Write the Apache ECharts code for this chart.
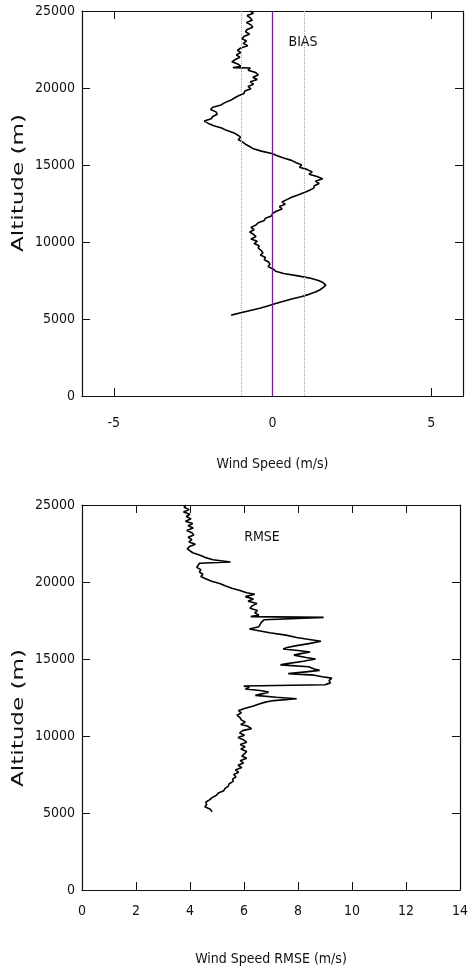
<!DOCTYPE html>
<html>
<head>
<meta charset="utf-8">
<script src="https://cdn.jsdelivr.net/npm/echarts@6/dist/echarts.min.js"></script>
<style>
html,body{margin:0;padding:0;background:#fff;}
#chart{width:471px;height:971px;}
</style>
</head>
<body>
<div id="chart"></div>
<script>
// ---- BIAS profile (altitude m, bias m/s) ----
const biasAlt = [25000,24850,24700,24550,24400,24250,24100,23950,23800,23650,23500,23350,23200,23050,22900,22750,22600,22450,22300,22150,22000,21850,21700,21550,21400,21320,21300,21150,21000,20850,20700,20550,20400,20250,20100,19950,19800,19650,19500,19350,19200,19050,18900,18750,18600,18450,18300,18150,18000,17850,17700,17550,17400,17250,17100,16950,16800,16650,16500,16350,16200,16050,15900,15750,15600,15450,15300,15150,15000,14850,14700,14550,14400,14250,14100,13950,13800,13650,13500,13350,13200,13050,12900,12750,12600,12450,12300,12150,12000,11850,11700,11550,11400,11250,11100,10950,10800,10650,10500,10350,10200,10050,9900,9750,9600,9450,9300,9150,9000,8850,8700,8550,8400,8250,8100,7950,7800,7650,7500,7350,7200,7050,6900,6750,6600,6450,6300,6150,6000,5850,5700,5550,5400,5250];
const biasVal = [-0.70,-0.60,-0.80,-0.70,-0.64,-0.82,-0.68,-0.62,-0.80,-0.85,-0.72,-0.90,-0.96,-0.82,-0.92,-0.78,-1.00,-1.10,-1.00,-1.14,-1.03,-1.17,-1.28,-1.08,-1.00,-1.25,-0.70,-0.77,-0.53,-0.45,-0.62,-0.48,-0.70,-0.60,-0.77,-0.68,-0.87,-0.90,-1.07,-1.20,-1.32,-1.50,-1.62,-1.88,-1.95,-1.78,-1.74,-1.88,-1.93,-2.15,-2.02,-1.85,-1.60,-1.45,-1.23,-1.10,-1.00,-1.08,-0.95,-0.85,-0.72,-0.60,-0.35,-0.02,0.15,0.35,0.60,0.75,0.92,0.85,1.10,1.25,1.15,1.40,1.58,1.35,1.47,1.32,1.30,1.15,0.98,0.80,0.60,0.45,0.30,0.40,0.22,0.30,0.12,0.00,-0.02,-0.22,-0.26,-0.45,-0.52,-0.68,-0.58,-0.72,-0.60,-0.52,-0.68,-0.48,-0.58,-0.42,-0.45,-0.36,-0.30,-0.38,-0.22,-0.26,-0.12,-0.08,-0.14,0.02,0.10,0.35,0.80,1.20,1.45,1.60,1.68,1.60,1.50,1.35,1.15,0.90,0.60,0.35,0.10,-0.15,-0.40,-0.70,-1.00,-1.30];

// ---- RMSE profile (altitude m, rmse m/s) ----
const rmseAlt = [25000,24850,24700,24550,24400,24250,24100,23950,23800,23650,23500,23350,23200,23050,22900,22750,22600,22450,22300,22150,22050,21900,21750,21600,21450,21300,21220,21100,20950,20800,20650,20500,20350,20200,20050,19900,19750,19600,19450,19300,19200,19050,18900,18750,18600,18450,18300,18150,18000,17850,17750,17700,17550,17400,17250,17100,16950,16850,16700,16550,16400,16300,16150,16000,15850,15750,15650,15550,15450,15350,15250,15100,15000,14850,14700,14620,14500,14350,14260,14150,14050,13950,13850,13760,13600,13450,13330,13250,13150,13050,12950,12850,12750,12640,12520,12420,12300,12200,12050,11950,11800,11650,11500,11350,11200,11050,10900,10750,10650,10480,10350,10200,10050,9900,9750,9600,9450,9300,9150,9000,8850,8700,8550,8400,8250,8100,7950,7800,7650,7500,7350,7200,7050,6900,6750,6600,6450,6300,6150,6000,5850,5700,5550,5400,5250,5080];
const rmseVal = [3.85,3.78,3.97,3.76,4.00,3.86,4.04,3.83,4.10,3.93,4.12,3.88,4.07,4.14,3.93,4.07,3.96,4.20,3.98,3.90,3.85,4.10,4.35,4.55,4.85,5.50,4.35,4.32,4.25,4.40,4.35,4.48,4.40,4.60,4.80,5.10,5.30,5.55,5.85,6.10,6.40,6.05,6.35,6.15,6.48,6.30,6.22,6.50,6.40,6.55,6.25,8.95,6.75,6.65,6.60,6.55,6.20,6.15,6.95,7.55,7.95,8.30,8.85,8.40,7.90,7.60,7.45,8.00,8.45,8.10,7.85,8.30,8.65,8.20,7.60,7.35,8.40,8.60,8.80,8.20,7.64,8.60,8.90,9.25,9.15,9.20,9.00,5.99,6.20,6.05,6.60,6.91,6.70,6.42,7.20,7.95,7.10,6.79,6.50,6.35,6.05,5.80,5.90,5.74,5.85,5.90,6.05,5.88,6.12,6.28,5.95,5.84,6.02,5.78,5.98,6.10,5.86,6.04,5.88,6.10,6.02,5.92,6.10,5.86,5.98,5.78,5.92,5.68,5.80,5.62,5.70,5.58,5.60,5.45,5.42,5.30,5.25,5.05,4.98,4.82,4.72,4.58,4.62,4.55,4.75,4.82];

// ---- axes / tick values ----
const biasTicks = [-5, 0, 5];
const biasRefLines = [-1, 1];
const biasZero = 0;

const numFont = '"DejaVu Sans Condensed","DejaVu Sans",sans-serif';
const axisColor = '#111';
const fs = 14;

function pairs(vals, alts){ return vals.map((v,i)=>[v, alts[i]]); }
const plain = v => String(v);

function xAx(grid, min, max, interval, custom, pos, showLabel, name, margin, nameGap){
  const ax = {
    type:'value', gridIndex:grid, min:min, max:max, position:pos,
    axisLine:{show:true, onZero:false, lineStyle:{color:axisColor, width:1.2}},
    axisTick:{show:true, inside:true, length:8, lineStyle:{color:axisColor}},
    axisLabel:{show:showLabel, margin:margin, fontFamily:numFont, fontSize:fs, color:'#111', formatter:plain},
    splitLine:{show:false}
  };
  if (interval) ax.interval = interval;
  if (custom){ ax.axisTick.customValues = custom; ax.axisLabel.customValues = custom; }
  if (name){
    ax.name = name; ax.nameLocation='middle'; ax.nameGap = nameGap;
    ax.nameTextStyle = {fontFamily:numFont, fontSize:fs, color:'#111'};
  }
  return ax;
}
function yAx(grid, pos, showLabel){
  return {
    type:'value', gridIndex:grid, min:0, max:25000, interval:5000, position:pos,
    axisLine:{show:true, onZero:false, lineStyle:{color:axisColor, width:1.2}},
    axisTick:{show:true, inside:true, length:8, lineStyle:{color:axisColor}},
    axisLabel:{show:showLabel, margin:7, fontFamily:numFont, fontSize:fs, color:'#111', formatter:plain},
    splitLine:{show:false}
  };
}

const chart = echarts.init(document.getElementById('chart'), null, {renderer:'canvas'});
chart.setOption({
  animation:false,
  backgroundColor:'#fff',
  grid:[
    {left:82, top:11, width:381, height:385},
    {left:82, top:505, width:381, height:385}
  ],
  xAxis:[
    xAx(0,-6,6,null,biasTicks,'bottom',true,'Wind Speed (m/s)',20,61),
    xAx(0,-6,6,null,biasTicks,'top',false,null,0,0),
    xAx(1,0,14,2,null,'bottom',true,'Wind Speed RMSE (m/s)',14,62),
    xAx(1,0,14,2,null,'top',false,null,0,0)
  ],
  yAxis:[
    yAx(0,'left',true), yAx(0,'right',false),
    yAx(1,'left',true), yAx(1,'right',false)
  ],
  graphic:[
    {type:'text', x:19, y:183, rotation:Math.PI/2, scaleX:1.44,
      style:{text:'Altitude (m)', font:'16px "DejaVu Sans", sans-serif', fill:'#111', textAlign:'center', textVerticalAlign:'middle'}},
    {type:'text', x:19, y:718, rotation:Math.PI/2, scaleX:1.44,
      style:{text:'Altitude (m)', font:'16px "DejaVu Sans", sans-serif', fill:'#111', textAlign:'center', textVerticalAlign:'middle'}},
    {type:'text', x:303, y:42,
      style:{text:'BIAS', font:fs+'px "DejaVu Sans Condensed","DejaVu Sans",sans-serif', fill:'#111', textAlign:'center', textVerticalAlign:'middle'}},
    {type:'text', x:262, y:537,
      style:{text:'RMSE', font:fs+'px "DejaVu Sans Condensed","DejaVu Sans",sans-serif', fill:'#111', textAlign:'center', textVerticalAlign:'middle'}}
  ],
  series:[
    {
      type:'line', xAxisIndex:0, yAxisIndex:0, data:pairs(biasVal,biasAlt),
      showSymbol:false, symbol:'none', lineStyle:{color:'#000', width:1.6}, z:3,
      markLine:{
        silent:true, symbol:['none','none'], label:{show:false}, animation:false,
        data:[
          {xAxis:biasRefLines[0], lineStyle:{color:'#aaa', type:'dotted', width:1}},
          {xAxis:biasRefLines[1], lineStyle:{color:'#aaa', type:'dotted', width:1}},
          {xAxis:biasZero, lineStyle:{color:'#9400d3', type:'solid', width:1.3}}
        ]
      }
    },
    {
      type:'line', xAxisIndex:2, yAxisIndex:2, data:pairs(rmseVal,rmseAlt),
      showSymbol:false, symbol:'none', lineStyle:{color:'#000', width:1.6}, z:3
    }
  ]
});
</script>
</body>
</html>
